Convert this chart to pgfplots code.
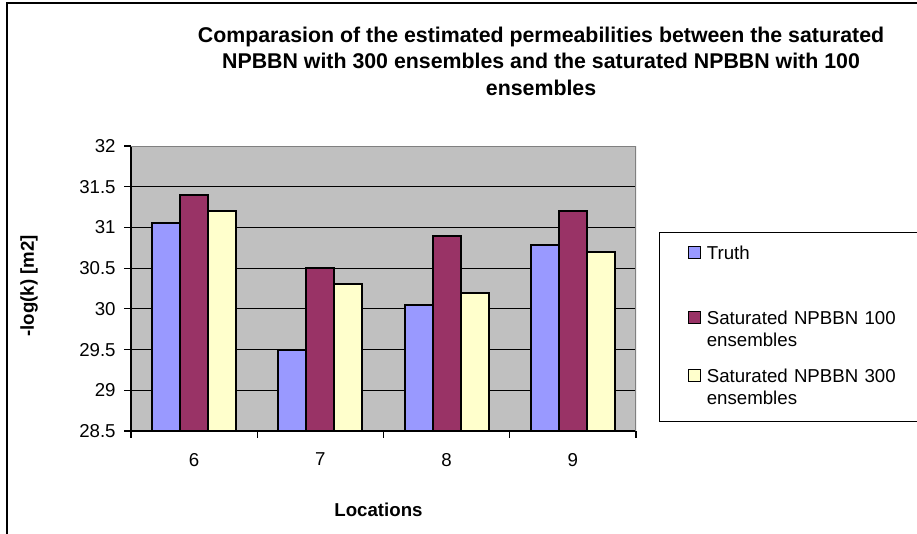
\documentclass[border=0pt]{standalone}
\usepackage{fontspec}
\setmainfont{Liberation Sans}
\usepackage{pgfplots}
\pgfplotsset{compat=1.18}
\definecolor{truthc}{HTML}{9999FF}
\definecolor{sattc}{HTML}{993366}
\definecolor{satdc}{HTML}{FFFFCC}
\definecolor{bgc}{HTML}{C0C0C0}
\pgfplotsset{
  legdeep/.style={legend image code/.code={\draw[##1, line width=1pt] (0pt,0.5pt) rectangle (9pt,9.5pt); \path[draw=none, fill=none] (0pt,-24.75pt) rectangle (0.1pt,0pt);}},
  legtwo/.style={legend image code/.code={\draw[##1, line width=1pt] (0pt,0.5pt) rectangle (9pt,9.5pt); \path[draw=none, fill=none] (0pt,-19.5pt) rectangle (0.1pt,0pt);}},
}
\begin{document}
\begin{tikzpicture}
\begin{axis}[
  at={(98.25pt,76.5pt)}, anchor=south west,
  scale only axis, width=378.75pt, height=213.75pt,
  xmin=5.5, xmax=9.5, ymin=28.5, ymax=32,
  ybar=0pt, bar width=21pt,
  axis background/.style={fill=bgc},
  axis x line*=bottom, axis y line*=left,
  axis line style={black, line width=1pt},
  xtick={6,7,8,9}, minor xtick={5.5,6.5,7.5,8.5,9.5},
  ytick={28.5,29,29.5,30,30.5,31,31.5,32},
  tick align=outside,
  major tick length=5pt, minor tick length=5pt,
  major x tick style={draw=none},
  tick style={black, line width=0.8pt},
  minor tick style={black, line width=0.8pt},
  ymajorgrids, grid style={black, line width=0.6pt},
  /pgf/number format/assume math mode=true,
  tick label style={font=\fontsize{14}{16}\selectfont},
  xticklabel style={yshift=-8pt},
  yticklabel style={xshift=-3pt},
  title={Comparasion of the estimated permeabilities between the saturated\\NPBBN with 300 ensembles and the saturated NPBBN with 100\\ensembles},
  title style={at={(0.812,1.407)}, anchor=north, align=center, font=\bfseries\fontsize{16}{20}\selectfont},
  xlabel={Locations},
  xlabel style={at={(0.49,-0.277)}, anchor=center, font=\bfseries\fontsize{14}{16}\selectfont},
  ylabel={-log(k) [m2]},
  ylabel style={at={(-0.202,0.51)}, anchor=center, font=\bfseries\fontsize{14}{16}\selectfont},
  legend style={at={(1.0455,0.698)}, anchor=north west, draw=black, line width=0.8pt, fill=white,
    inner xsep=21pt, inner ysep=10pt, row sep=13.7pt, column sep=0pt,
    font=\fontsize{14}{16.5}\selectfont,
    cells={anchor=base west},
    nodes={text width=200pt, align=left, inner xsep=4.5pt, inner ysep=0pt}},
]
\addplot[fill=truthc, draw=black, line width=1.5pt, legdeep]
  coordinates {(6,31.05) (7,29.5) (8,30.05) (9,30.78)};
\addplot[fill=sattc, draw=black, line width=1.5pt, legtwo]
  coordinates {(6,31.4) (7,30.5) (8,30.9) (9,31.2)};
\addplot[fill=satdc, draw=black, line width=1.5pt, legtwo]
  coordinates {(6,31.2) (7,30.3) (8,30.2) (9,30.7)};
\legend{Truth, {Saturated NPBBN 100\\ensembles}, {Saturated NPBBN 300\\ensembles}}
\draw[color=gray, line width=1pt] (rel axis cs:0,1) -- (rel axis cs:1,1) -- (rel axis cs:1,0);
\end{axis}
\draw[line width=0.9pt] (5.25pt,-5pt) -- (5.25pt,397.5pt) -- (700pt,397.5pt);
\pgfresetboundingbox
\useasboundingbox (0,0) rectangle (687.75pt,399.75pt);
\end{tikzpicture}
\end{document}
